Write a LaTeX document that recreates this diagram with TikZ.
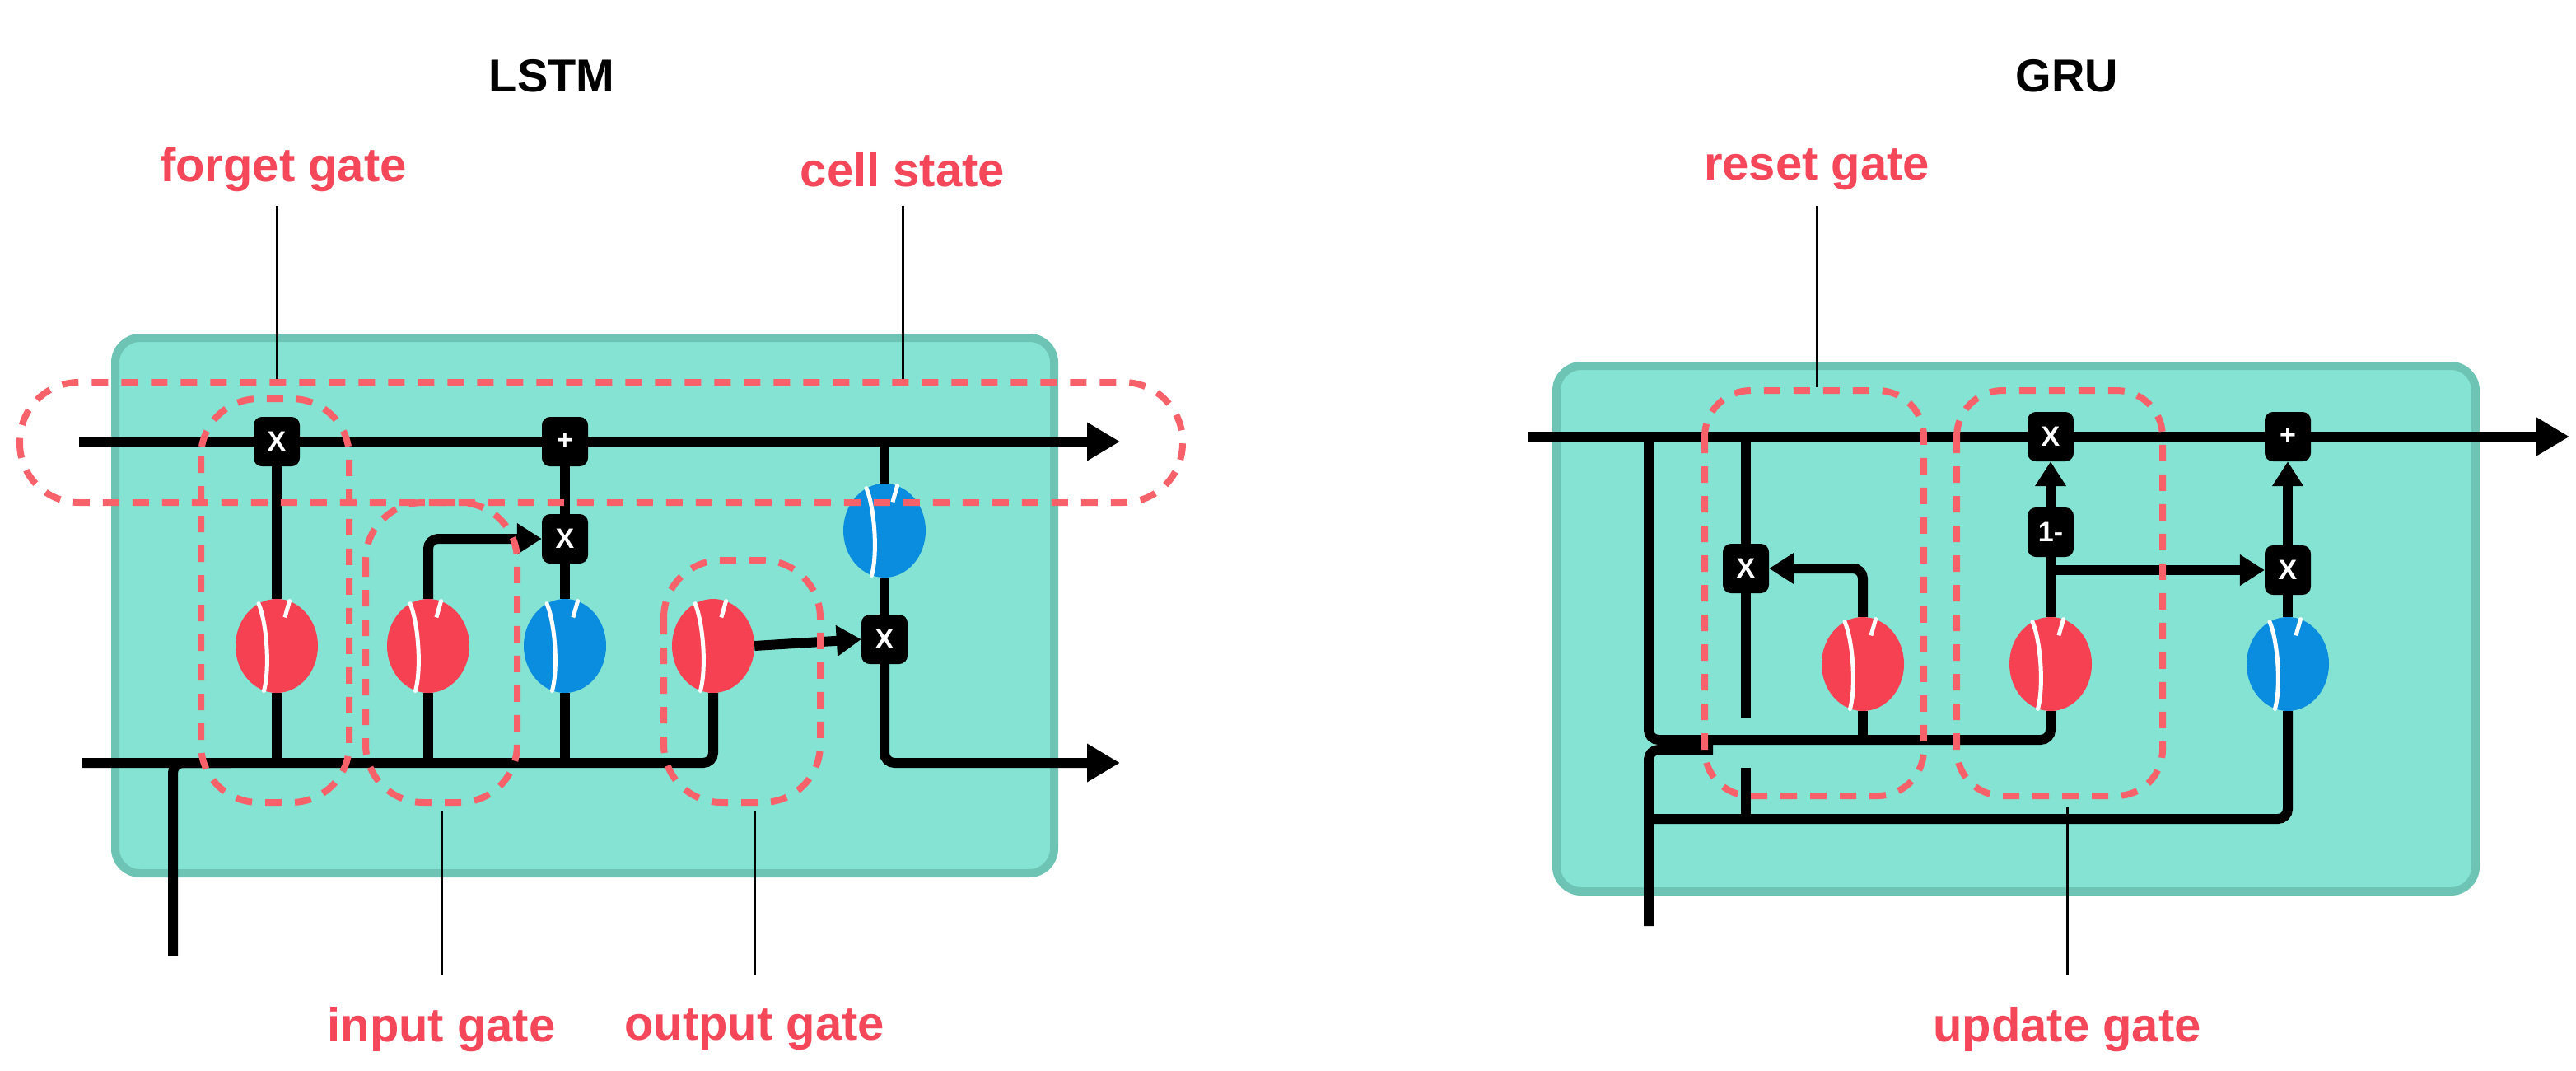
\documentclass[tikz,border=0pt]{standalone}
\usepackage{fontspec}
\setmainfont{Liberation Sans}
\usetikzlibrary{arrows.meta,shapes.geometric}
\definecolor{teal1}{HTML}{85E3D3}
\definecolor{teal2}{HTML}{6DC4B4}
\definecolor{sred}{HTML}{F64152}
\definecolor{sblue}{HTML}{0A8DDF}
\definecolor{dred}{HTML}{F6616A}
\definecolor{lred}{HTML}{F5475A}
\pgfdeclarelayer{bg}\pgfdeclarelayer{lines}\pgfdeclarelayer{fg}
\pgfsetlayers{bg,lines,main,fg}
\tikzset{
  op/.style={fill=black,rounded corners=10pt,minimum width=56pt,minimum height=60pt,inner sep=0pt,text=white,font=\fontsize{34}{34}\selectfont\bfseries},
  sg/.style={ellipse,minimum width=100pt,minimum height=114pt,inner sep=0pt},
  sr/.style={sg,fill=sred},
  sb/.style={sg,fill=sblue},
  wire/.style={line width=12pt,black,rounded corners=12pt},
  big/.style={wire,-{Triangle[length=40pt,width=44pt]}},
  arr/.style={wire,-{Triangle[length=30pt,width=36pt]}},
  gdash/.style={dred,line width=8pt,dash pattern=on 20pt off 16pt},
  lead/.style={line width=3pt,black},
  lab/.style={text=lred,font=\fontsize{58}{58}\selectfont\bfseries},
  ttl/.style={font=\fontsize{56}{56}\selectfont\bfseries},
  cell/.style={fill=teal1,draw=teal2,line width=10pt,rounded corners=30pt}
}
\newcommand{\Scurve}[1]{\draw[white,line width=5pt,line cap=round] ([shift={(-14,14)}]#1) .. controls ([shift={(-4,14)}]#1) and ([shift={(-6,-14)}]#1) .. ([shift={(0,-2)}]#1) .. controls ([shift={(4,-14)}]#1) .. ([shift={(14,-14)}]#1);}
\begin{document}
\begin{tikzpicture}[x=2pt,y=-2pt]
\path[use as bounding box] (0,0) rectangle (1564,649.5);
\begin{pgfonlayer}{bg}
\draw[cell] (70,205) rectangle (640,530);
\draw[cell] (945,222) rectangle (1503,541);
\end{pgfonlayer}
% titles and labels
\node[ttl] (t1) at (335,46) {LSTM};
\node[ttl] (t2) at (1255,46) {GRU};
\node[lab] (lf) at (172,103) {forget gate};
\node[lab] (lc) at (548,103) {cell state};
\node[lab] (li) at (268,625) {input gate};
\node[lab] (lo) at (458,625) {output gate};
\node[lab] (lr) at (1103,103) {reset gate};
\node[lab] (lu) at (1255,625) {update gate};
% LSTM nodes
\node[op] (fx) at (168,268) {X};
\node[op] (pl) at (343,268) {+};
\node[op] (ix) at (343,327) {X};
\node[op] (ox) at (537,388) {X};
\node[sr] (fs) at (168,392) {};
\node[sr] (is) at (260,392) {};
\node[sb] (ct) at (343,392) {};
\node[sr] (os) at (433,392) {};
\node[sb] (ht) at (537,322) {};
\Scurve{fs}\Scurve{is}\Scurve{ct}\Scurve{os}\Scurve{ht}
\coordinate (cin) at (48,268);
\coordinate (cout) at (680,268);
\coordinate (bin) at (50,463);
\coordinate (bout) at (680,463);
\coordinate (xin) at (105,580);
\coordinate (cj) at (537,268);
% GRU nodes
\node[op] (rx) at (1060,345) {X};
\node[op] (ux) at (1245,265) {X};
\node[op] (pp) at (1389,265) {+};
\node[op] (om) at (1245,323) {1-};
\node[op] (zx) at (1389,346) {X};
\node[sr] (rs) at (1131,403) {};
\node[sr] (us) at (1245,403) {};
\node[sb] (hs) at (1389,403) {};
\Scurve{rs}\Scurve{us}\Scurve{hs}
\coordinate (gin) at (928,265);
\coordinate (gout) at (1560,265);
\coordinate (gx) at (1001,562);
\coordinate (gj) at (1001,265);
\coordinate (rj) at (1060,265);
\coordinate (uj) at (1245,346);
\begin{pgfonlayer}{lines}
% LSTM
\draw[big] (cin) -- (cout);
\draw[wire] (fs) -- (fx);
\draw[wire] (pl) -- (ix);
\draw[wire] (ix) -- (ct);
\draw[wire] (fs) -- (fs |- bin);
\draw[wire] (is) -- (is |- bin);
\draw[wire] (ct) -- (ct |- bin);
\draw[wire] (bin) -| (os.south);
\draw[wire] (xin) |- (140,463);
\draw[arr] (is.north) |- (ix.west);
\draw[arr] (os.east) -- (ox.west);
\draw[wire] (cj) -- (ht);
\draw[wire] (ht) -- (ox);
\draw[big] (ox) |- (bout);
% GRU
\draw[big] (gin) -- (gout);
\draw[wire] (gj) |- (1180,449) -| (us.south);
\draw[wire] (rs) -- (rs |- 0,449);
\draw[wire] (gx) |- (1040,455);
\draw[wire] (gx) -- (1001,497);
\draw[wire] (1001,497) -| (hs.south);
\draw[wire] (rj) -- (rx);
\draw[wire] (rx) -- (1060,436);
\draw[wire] (1060,466) -- (1060,497);
\draw[arr] (rs.north) |- (rx.east);
\draw[wire] (us) -- (om);
\draw[arr] (om) -- (ux);
\draw[arr] (uj) -- (zx.west);
\draw[wire] (hs) -- (zx);
\draw[arr] (zx) -- (pp);
\end{pgfonlayer}
\begin{pgfonlayer}{fg}
\draw[gdash,rounded corners=72pt] (12,232) rectangle (718,305);
\draw[gdash,rounded corners=70pt] (122,242) rectangle (212,487);
\draw[gdash,rounded corners=70pt] (222,305) rectangle (314,487);
\draw[gdash,rounded corners=70pt] (403,340) rectangle (498,487);
\draw[gdash,rounded corners=56pt] (1035,237) rectangle (1168,483);
\draw[gdash,rounded corners=56pt] (1188,237) rectangle (1313,483);
\end{pgfonlayer}
% leaders
\draw[lead] (168,125) -- (168,232);
\draw[lead] (548,125) -- (548,232);
\draw[lead] (268,492) -- (268,592);
\draw[lead] (458,492) -- (458,592);
\draw[lead] (1103,125) -- (1103,235);
\draw[lead] (1255,490) -- (1255,592);
\end{tikzpicture}
\end{document}
